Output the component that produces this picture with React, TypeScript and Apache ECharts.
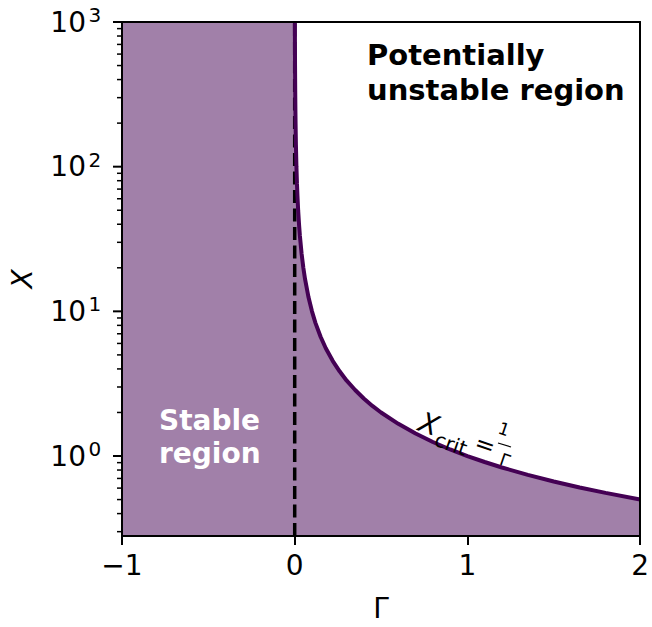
import React, { useEffect, useRef } from "react";
import * as echarts from "echarts";

// ---- data ----
const gammaVals = [0.001, 0.0015, 0.002, 0.003, 0.004, 0.005, 0.007, 0.01, 0.013, 0.016, 0.02, 0.025, 0.03, 0.04, 0.05, 0.06, 0.08, 0.1, 0.12, 0.15, 0.18, 0.22, 0.26, 0.3, 0.35, 0.4, 0.45, 0.5, 0.6, 0.7, 0.8, 0.9, 1.0, 1.1, 1.2, 1.35, 1.5, 1.65, 1.8, 2.0];
const xcritVals = [1000, 666.7, 500, 333.3, 250, 200, 142.9, 100, 76.9, 62.5, 50, 40, 33.3, 25, 20, 16.67, 12.5, 10, 8.33, 6.67, 5.56, 4.55, 3.85, 3.33, 2.86, 2.5, 2.22, 2.0, 1.67, 1.43, 1.25, 1.11, 1.0, 0.909, 0.833, 0.741, 0.667, 0.606, 0.556, 0.5];
const stableGamma = [-1, 0];
const stableX = [1000, 1000];
const dashGamma = [0, 0];
const dashX = [0.28, 1000];
const xTicks = [-1, 0, 1, 2];
const yMajorTicks = [1, 10, 100, 1000];
const yMajorExp = ["0", "1", "2", "3"];
const yMinorTicks = [0.3, 0.4, 0.5, 0.6, 0.7, 0.8, 0.9, 2, 3, 4, 5, 6, 7, 8, 9, 20, 30, 40, 50, 60, 70, 80, 90, 200, 300, 400, 500, 600, 700, 800, 900];
const Y_MIN = 0.28;
const Y_MAX = 1000;

const FONT = "'DejaVu Sans', sans-serif";
const FILL = "#a180a9";
const CURVE = "#440154";
const ROT = -0.33;

export default function App() {
  const ref = useRef<HTMLDivElement>(null);
  useEffect(() => {
    document.body.style.margin = "0";
    const chart = echarts.init(ref.current!, null, { renderer: "svg" });
    const curveData = gammaVals.map((g, i) => [g, xcritVals[i]]);
    const fillData = stableGamma.map((g, i) => [g, stableX[i]]).concat(curveData);
    const dashData = dashGamma.map((g, i) => [g, dashX[i]]);
    const tickData = yMajorTicks
      .map((v, i) => [-1, v, 1, i])
      .concat(yMinorTicks.map((v) => [-1, v, 0, -1]));

    const labelText = (text: string, x: number, y: number, font: string) => ({
      type: "text",
      x,
      y,
      rotation: ROT,
      z: 20,
      style: { text, align: "center", verticalAlign: "middle", font, fill: "#000" },
    });

    const option: any = {
      animation: false,
      grid: { left: 122, right: 8, top: 22, bottom: 86, containLabel: false },
      xAxis: [
        {
          type: "value",
          min: xTicks[0],
          max: xTicks[xTicks.length - 1],
          interval: 1,
          position: "bottom",
          z: 10,
          axisLine: { show: true, lineStyle: { color: "#000", width: 2 } },
          axisTick: { show: true, length: 9, lineStyle: { color: "#000", width: 2 } },
          splitLine: { show: false },
          axisLabel: {
            color: "#000",
            fontSize: 28,
            fontFamily: FONT,
            margin: 15,
            formatter: (v: number) => (v < 0 ? "\u2212" + Math.abs(v) : String(v)),
          },
          name: "Γ",
          nameLocation: "middle",
          nameGap: 58,
          nameTextStyle: { color: "#000", fontSize: 28, fontFamily: FONT },
        },
        {
          type: "value",
          min: xTicks[0],
          max: xTicks[xTicks.length - 1],
          position: "top",
          z: 10,
          axisLine: { show: true, onZero: false, lineStyle: { color: "#000", width: 2 } },
          axisTick: { show: false },
          axisLabel: { show: false },
          splitLine: { show: false },
        },
      ],
      yAxis: [
        {
          type: "log",
          logBase: 10,
          min: Y_MIN,
          max: Y_MAX,
          position: "left",
          z: 10,
          axisLine: { show: true, onZero: false, lineStyle: { color: "#000", width: 2 } },
          axisTick: { show: false },
          axisLabel: { show: false },
          splitLine: { show: false },
          name: "X",
          nameLocation: "middle",
          nameRotate: 90,
          nameGap: 86,
          nameTextStyle: { color: "#000", fontSize: 28, fontFamily: FONT, fontStyle: "italic" },
        },
        {
          type: "log",
          logBase: 10,
          min: Y_MIN,
          max: Y_MAX,
          position: "right",
          z: 10,
          axisLine: { show: true, onZero: false, lineStyle: { color: "#000", width: 2 } },
          axisTick: { show: false },
          axisLabel: { show: false },
          splitLine: { show: false },
        },
      ],
      series: [
        {
          type: "line",
          data: fillData,
          symbol: "none",
          z: 1,
          lineStyle: { width: 0, opacity: 0 },
          areaStyle: { color: FILL, opacity: 1, origin: "start" },
          silent: true,
        },
        {
          type: "line",
          data: dashData,
          symbol: "none",
          z: 3,
          lineStyle: { color: "#000", width: 3.5, type: [13, 5.5] },
          silent: true,
        },
        {
          type: "line",
          data: curveData,
          symbol: "none",
          z: 4,
          lineStyle: { color: CURVE, width: 4 },
          silent: true,
        },
        {
          type: "custom",
          clip: false,
          z: 10,
          silent: true,
          data: tickData,
          encode: { x: 0, y: 1 },
          renderItem: (params: any, api: any) => {
            const pt = api.coord([api.value(0), api.value(1)]);
            const major = api.value(2) === 1;
            const len = major ? 9 : 5;
            const children: any[] = [
              {
                type: "line",
                shape: { x1: pt[0] - len, y1: pt[1], x2: pt[0], y2: pt[1] },
                style: { stroke: "#000", lineWidth: major ? 2 : 1.5 },
              },
            ];
            if (major) {
              const idx = api.value(3);
              children.push({
                type: "text",
                style: {
                  text: "10",
                  x: pt[0] - 36,
                  y: pt[1],
                  align: "right",
                  verticalAlign: "middle",
                  font: `28px ${FONT}`,
                  fill: "#000",
                },
              });
              children.push({
                type: "text",
                style: {
                  text: yMajorExp[idx],
                  x: pt[0] - 33.5,
                  y: pt[1] - 7,
                  align: "left",
                  verticalAlign: "middle",
                  font: `20px ${FONT}`,
                  fill: "#000",
                },
              });
            }
            return { type: "group", children };
          },
        },
      ],
      graphic: [
        {
          type: "text",
          z: 20,
          style: {
            text: "Potentially\nunstable region",
            x: 367,
            y: 37,
            align: "left",
            verticalAlign: "top",
            font: `bold 29px ${FONT}`,
            lineHeight: 35,
            fill: "#000",
          },
        },
        {
          type: "text",
          z: 20,
          style: {
            text: "Stable\nregion",
            x: 159,
            y: 404,
            align: "left",
            verticalAlign: "top",
            font: `bold 28px ${FONT}`,
            lineHeight: 33,
            fill: "#fff",
          },
        },
        labelText("X", 429, 424, `italic 28px ${FONT}`),
        labelText("crit", 451, 444, `20px ${FONT}`),
        labelText("=", 485, 445, `24px ${FONT}`),
        labelText("1", 504, 429, `17px ${FONT}`),
        {
          type: "line",
          z: 20,
          shape: { x1: 498, y1: 443, x2: 511, y2: 447 },
          style: { stroke: "#000", lineWidth: 1.3 },
        },
        labelText("Γ", 505, 460, `17px ${FONT}`),
      ],
    };
    chart.setOption(option);
    return () => chart.dispose();
  }, []);
  return <div ref={ref} style={{ width: 652, height: 627 }} />;
}
